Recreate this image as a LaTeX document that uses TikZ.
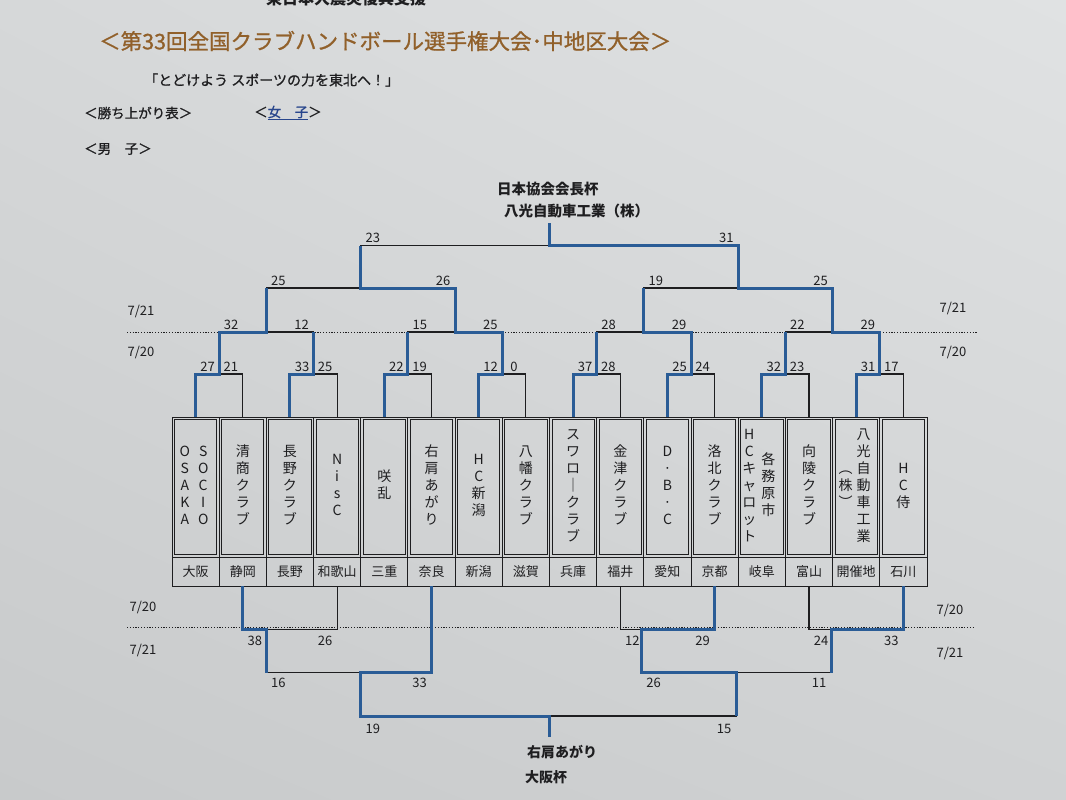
\documentclass[tikz,border=0pt]{standalone}
\usepackage{fontspec}
\setmainfont{Noto Sans CJK JP}
\newfontfamily\medjp{Noto Sans CJK JP}[FakeBold=1]
\usetikzlibrary{calc,shadings}
\definecolor{bgA}{RGB}{200,202,203}
\definecolor{bgB}{RGB}{214,216,217}
\definecolor{bgC}{RGB}{224,226,227}
\definecolor{bgD}{RGB}{208,210,211}
\definecolor{bl}{RGB}{42,92,150}
\definecolor{ink}{RGB}{30,30,32}
\definecolor{gold}{RGB}{145,96,42}
\definecolor{lnk}{RGB}{40,70,140}
\newcommand\vcol[1]{\begin{tabular}[c]{@{}c@{}}#1\end{tabular}}
\begin{document}
\begin{tikzpicture}[x=1pt,y=-1pt,line join=miter,
  win/.style={draw=bl,line width=3pt},
  lose/.style={draw=ink,line width=1.1pt},
  dots/.style={draw=ink,line width=0.9pt,dash pattern=on 1.1pt off 1.7pt},
  score/.style={font=\fontsize{13}{13}\selectfont,text=ink,inner sep=0pt},
  datelbl/.style={font=\fontsize{13}{13}\selectfont,text=ink,inner sep=0pt},
  gridcell/.style={draw=ink,line width=0.9pt,minimum width=47.1875pt,minimum height=140pt,inner sep=0pt},
  namecell/.style={draw=ink,line width=0.9pt,minimum width=42.2pt,minimum height=135pt,inner sep=0pt},
  nametext/.style={font=\fontsize{14}{17}\selectfont,text=ink,inner sep=0pt},
  prefcell/.style={draw=ink,line width=0.9pt,minimum width=47.1875pt,minimum height=29pt,inner sep=0pt,font=\fontsize{13}{13}\selectfont,text=ink},
  txt/.style={text=ink,inner sep=0pt,anchor=west}]
\useasboundingbox (0,0) rectangle (1066,800);
\shade[lower left=bgA,upper left=bgB,upper right=bgC,lower right=bgD] (0,0) rectangle (1066,800);

% header
\node[txt,font=\fontsize{16}{16}\selectfont\bfseries] (cut) at (266,-2) {東日本大震災復興支援};
\node[txt,text=gold,font=\fontsize{21.5}{21.5}\selectfont\medjp] (title) at (99,41) {＜第33回全国クラブハンドボール選手権大会･中地区大会＞};
\node[txt,font=\fontsize{14}{14}\selectfont\medjp] (sub) at (144,80) {「とどけよう スポーツの力を東北へ！」};
\node[txt,font=\fontsize{13.5}{13.5}\selectfont\medjp] (kachi) at (84,113) {＜勝ち上がり表＞};
\node[txt,font=\fontsize{13.5}{13.5}\selectfont\medjp] (joshi) at (254,113) {＜\textcolor{lnk}{\underline{女　子}}＞};
\node[txt,font=\fontsize{13.5}{13.5}\selectfont\medjp] (danshi) at (84,149) {＜男　子＞};
\node[txt,font=\fontsize{14.5}{14.5}\selectfont\bfseries] (cupA) at (497,189) {日本協会会長杯};
\node[txt,font=\fontsize{14.5}{14.5}\selectfont\bfseries] (winA) at (504,211) {八光自動車工業（株）};
\node[txt,font=\fontsize{14}{14}\selectfont\bfseries] (winB) at (527,752) {右肩あがり};
\node[txt,font=\fontsize{14}{14}\selectfont\bfseries] (cupB) at (525,777) {大阪杯};

% dotted day separators
\coordinate (dl1) at (127,332); \coordinate (dr1) at (978,332);
\coordinate (dl2) at (127,627.5); \coordinate (dr2) at (975,627.5);
\draw[dots] (dl1) -- (dr1);
\draw[dots] (dl2) -- (dr2);
\node[datelbl] (d1) at (141,311) {7/21};
\node[datelbl] (d2) at (141,353) {7/20};
\node[datelbl] (d3) at (953,309) {7/21};
\node[datelbl] (d4) at (953,353) {7/20};
\node[datelbl] (d5) at (143,607) {7/20};
\node[datelbl] (d6) at (143,650) {7/21};
\node[datelbl] (d7) at (950,610) {7/20};
\node[datelbl] (d8) at (950,653) {7/21};

% team cells
\foreach \i in {1,...,16} {
  \pgfmathsetmacro\cx{172+47.1875*(\i-0.5)}
  \coordinate (top\i) at (\cx,417);
  \coordinate (bot\i) at (\cx,586);
  \node[gridcell] (g\i) at (\cx,487) {};
  \node[namecell] (t\i) at (\cx,487) {};
}
\foreach \i/\p in {1/大阪,2/静岡,3/長野,4/和歌山,5/三重,6/奈良,7/新潟,8/滋賀,9/兵庫,10/福井,11/愛知,12/京都,13/岐阜,14/富山,15/開催地,16/石川} {
  \node[prefcell] (p\i) at ({172+47.1875*(\i-0.5)},571.5) {\p};
}
\node[nametext] (n1) at (194,487) {\vcol{O\\S\\A\\K\\A}\hspace{8pt}\vcol{S\\O\\C\\I\\O}};
\node[nametext] (n2) at (242.78,487) {\vcol{清\\商\\ク\\ラ\\ブ}};
\node[nametext] (n3) at (289.97,487) {\vcol{長\\野\\ク\\ラ\\ブ}};
\node[nametext] (n4) at (337.16,487) {\vcol{N\\i\\s\\C}};
\node[nametext] (n5) at (384.34,487) {\vcol{咲\\乱}};
\node[nametext] (n6) at (431.53,487) {\vcol{右\\肩\\あ\\が\\り}};
\node[nametext] (n7) at (478.72,487) {\vcol{H\\C\\新\\潟}};
\node[nametext] (n8) at (525.91,487) {\vcol{八\\幡\\ク\\ラ\\ブ}};
\node[nametext] (n9) at (573.09,487) {\vcol{ス\\ワ\\ロ\\｜\\ク\\ラ\\ブ}};
\node[nametext] (n10) at (620.28,487) {\vcol{金\\津\\ク\\ラ\\ブ}};
\node[nametext] (n11) at (667.47,487) {\vcol{D\\·\\B\\·\\C}};
\node[nametext] (n12) at (714.66,487) {\vcol{洛\\北\\ク\\ラ\\ブ}};
\node[nametext] (n13) at (758.8,487) {\vcol{H\\C\\キ\\ャ\\ロ\\ッ\\ト}\hspace{5pt}\vcol{各\\務\\原\\市}};
\node[nametext] (n14) at (809.03,487) {\vcol{向\\陵\\ク\\ラ\\ブ}};
\node[nametext] (n15) at (854.5,487) {\vcol{︵\\株\\︶}\hspace{4pt}\vcol{八\\光\\自\\動\\車\\工\\業}};
\node[nametext] (n16) at (903.41,487) {\vcol{H\\C\\侍}};

% junctions, upper bracket
\foreach \k in {1,...,8} \coordinate (Ja\k) at ({172+47.1875*(2*\k-1)},374);
\foreach \k in {1,...,4} \coordinate (Jb\k) at ({172+47.1875*(4*\k-2)},332);
\coordinate (Jc1) at (360.75,288);
\coordinate (Jc2) at (738.25,288);
\coordinate (Jd) at (549.5,245.5);
\coordinate (champ) at (549.5,223);
% junctions, lower bracket
\coordinate (Ba1) at (266.38,629.5);
\coordinate (Ba2) at (641.5,629.5);
\coordinate (Ba3) at (831,629.5);
\coordinate (Bb1) at (360.75,672.5);
\coordinate (Bb2) at (736,672.5);
\coordinate (Bc) at (549.5,716);
\coordinate (cup) at (549.5,737);

% all bracket lines (thin)
\foreach \k in {1,...,8} {
  \pgfmathtruncatemacro\a{2*\k-1}\pgfmathtruncatemacro\b{2*\k}
  \draw[lose] (top\a) |- (Ja\k) -| (top\b);
}
\foreach \k in {1,...,4} {
  \pgfmathtruncatemacro\a{2*\k-1}\pgfmathtruncatemacro\b{2*\k}
  \draw[lose] (Ja\a) |- (Jb\k) -| (Ja\b);
}
\draw[lose] (Jb1) |- (Jc1) -| (Jb2);
\draw[lose] (Jb3) |- (Jc2) -| (Jb4);
\draw[lose] (Jc1) |- (Jd) -| (Jc2);
\draw[lose] (bot2) |- (Ba1) -| (bot4);
\draw[lose] (bot10) |- (Ba2) -| (bot12);
\draw[lose] (bot14) |- (Ba3) -| (bot16);
\draw[lose] (Ba1) |- (Bb1) -| (bot6);
\draw[lose] (Ba2) |- (Bb2) -| (Ba3);
\draw[lose] (Bb1) |- (Bc) -| (Bb2);

% winners' paths (blue)
\draw[win] (top1) |- (Ja1) |- (Jb1) -- (Jb1 |- Jc1);
\draw[win] (top3) |- (Ja2) -- (Ja2 |- Jb1);
\draw[win] (top5) |- (Ja3) -- (Ja3 |- Jb2);
\draw[win] (top7) |- (Ja4) |- (Jb2) |- (Jc1) -- (Jc1 |- Jd);
\draw[win] (top9) |- (Ja5) -- (Ja5 |- Jb3);
\draw[win] (top11) |- (Ja6) |- (Jb3) -- (Jb3 |- Jc2);
\draw[win] (top13) |- (Ja7) -- (Ja7 |- Jb4);
\draw[win] (top15) |- (Ja8) |- (Jb4) |- (Jc2) |- (Jd) -- (champ);
\draw[win] (bot2) |- (Ba1) -- (Ba1 |- Bb1);
\draw[win] (bot6) |- (Bb1) |- (Bc) -- (cup);
\draw[win] (bot12) |- (Ba2) |- (Bb2) -- (Bb2 |- Bc);
\draw[win] (bot16) |- (Ba3) -- (Ba3 |- Bb2);

% scores
\foreach \x/\y/\s [count=\n] in {
  207.6/366.5/27,230.8/366.5/21,302.0/366.5/33,325.2/366.5/25,
  396.3/366.5/22,419.5/366.5/19,490.7/366.5/12,513.9/366.5/0,
  585.1/366.5/37,608.3/366.5/28,679.5/366.5/25,702.7/366.5/24,
  773.8/366.5/32,797.0/366.5/23,868.2/366.5/31,891.4/366.5/17,
  231.2/324.5/32,301.6/324.5/12,419.9/324.5/15,490.3/324.5/25,
  608.7/324.5/28,679.1/324.5/29,797.4/324.5/22,867.8/324.5/29,
  278.4/281/25,443.1/281/26,655.9/281/19,820.6/281/25,
  372.8/238/23,726.3/238/31,
  254.8/640.5/38,325.2/640.5/26,632.3/640.5/12,702.7/640.5/29,821.0/640.5/24,891.4/640.5/33,
  278.4/683/16,419.5/683/33,653.5/683/26,819/683/11,
  372.8/728.5/19,724/728.5/15} {
  \node[score] (s\n) at (\x,\y) {\s};
}
\end{tikzpicture}
\end{document}
